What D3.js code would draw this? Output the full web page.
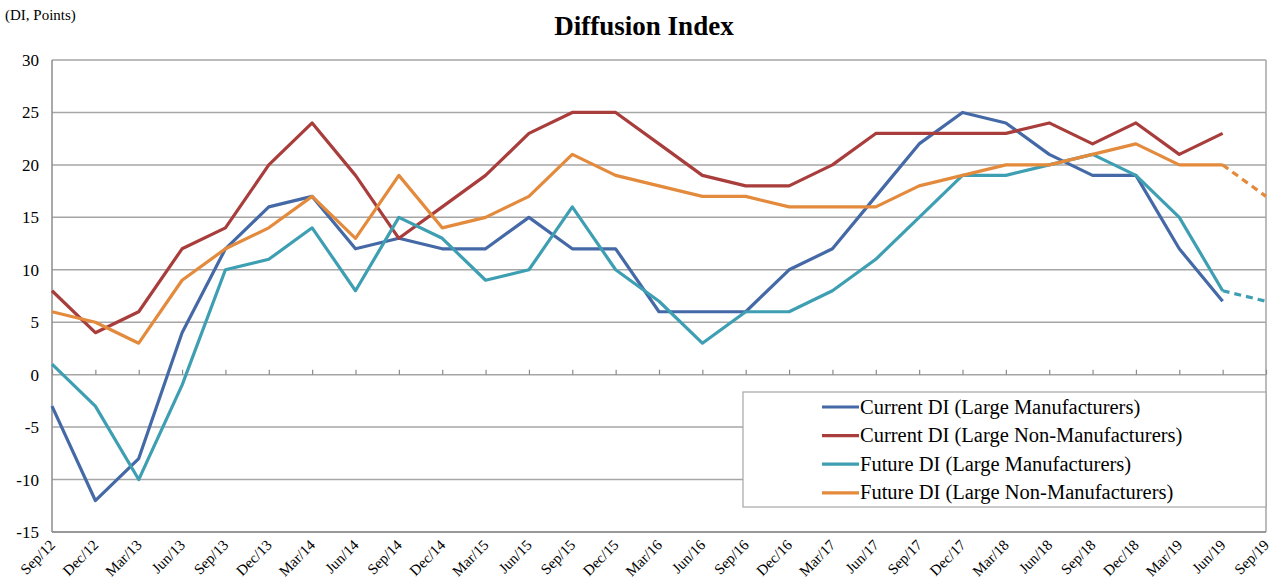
<!DOCTYPE html>
<html>
<head>
<meta charset="utf-8">
<script src="https://cdn.jsdelivr.net/npm/d3@7"></script>
<style>
  html, body { margin: 0; padding: 0; background: #fff; }
  svg { display: block; }
  text { font-family: "Liberation Serif", "Times New Roman", serif; fill: #000; }
</style>
</head>
<body>
<svg id="chart" width="1282" height="588"></svg>
<script>
// Quarterly survey dates
const quarters = ["Sep/12","Dec/12","Mar/13","Jun/13","Sep/13","Dec/13","Mar/14","Jun/14","Sep/14","Dec/14",
  "Mar/15","Jun/15","Sep/15","Dec/15","Mar/16","Jun/16","Sep/16","Dec/16","Mar/17","Jun/17",
  "Sep/17","Dec/17","Mar/18","Jun/18","Sep/18","Dec/18","Mar/19","Jun/19","Sep/19"];

// Diffusion index values (points); null = not yet surveyed
const currentMfr = [-3,-12,-8,4,12,16,17,12,13,12,12,15,12,12,6,6,6,10,12,17,22,25,24,21,19,19,12,7,null];
const currentNonMfr = [8,4,6,12,14,20,24,19,13,16,19,23,25,25,22,19,18,18,20,23,23,23,23,24,22,24,21,23,null];
const futureMfr = [1,-3,-10,-1,10,11,14,8,15,13,9,10,16,10,7,3,6,6,8,11,15,19,19,20,21,19,15,8,7];
const futureNonMfr = [6,5,3,9,12,14,17,13,19,14,15,17,21,19,18,17,17,16,16,16,18,19,20,20,21,22,20,20,17];

const yTicks = [30,25,20,15,10,5,0,-5,-10,-15];

const seriesNames = ["Current DI (Large Manufacturers)","Current DI (Large Non-Manufacturers)",
  "Future DI (Large Manufacturers)","Future DI (Large Non-Manufacturers)"];
const seriesValues = [currentMfr, currentNonMfr, futureMfr, futureNonMfr];
const seriesColors = ["#4469a6","#a83d3b","#3e9fb3","#e38a3c"];
// the last point of the forecast series is a projection, drawn dashed
const projectedFrom = [null, null, 27, 27];

const svg = d3.select("#chart");
const plotLeft = 52, plotRight = 1266, plotTop = 60, plotBottom = 532;

const x = d3.scalePoint().domain(quarters).range([plotLeft, plotRight]);
const y = d3.scaleLinear().domain([-15, 30]).range([plotBottom, plotTop]);

// horizontal gridlines
svg.append("g").selectAll("line").data(yTicks).join("line")
  .attr("x1", plotLeft).attr("x2", plotRight)
  .attr("y1", d => y(d)).attr("y2", d => y(d))
  .attr("stroke", "#a6a6a6").attr("stroke-width", 1.5);

// plot frame: left axis, right edge, bottom edge
svg.append("line").attr("x1", plotLeft).attr("x2", plotLeft).attr("y1", plotTop).attr("y2", plotBottom)
  .attr("stroke", "#8c8c8c").attr("stroke-width", 1.5);
svg.append("line").attr("x1", plotRight).attr("x2", plotRight).attr("y1", plotTop).attr("y2", plotBottom)
  .attr("stroke", "#a6a6a6").attr("stroke-width", 1.5);
svg.append("line").attr("x1", plotLeft).attr("x2", plotRight).attr("y1", plotBottom).attr("y2", plotBottom)
  .attr("stroke", "#8c8c8c").attr("stroke-width", 1.5);

// y axis labels (plain hyphen for negatives)
const yAxis = d3.axisLeft(y).tickValues(yTicks).tickSize(0).tickPadding(13).tickFormat(d => String(d));
const gy = svg.append("g").attr("transform", `translate(${plotLeft},0)`).call(yAxis);
gy.select(".domain").remove();
gy.selectAll("text").attr("font-size", 17).style("font-family", "'Liberation Serif', serif");

// category ticks on the zero line
const xAxis = d3.axisTop(x).tickSize(5).tickFormat("");
const gx = svg.append("g").attr("transform", `translate(0,${y(0)})`).call(xAxis);
gx.select(".domain").remove();
gx.selectAll(".tick line").attr("stroke", "#8c8c8c").attr("stroke-width", 1.2);

// rotated category labels along the bottom
svg.append("g").selectAll("text").data(quarters).join("text")
  .attr("transform", d => `translate(${x(d) + 4},${plotBottom + 14}) rotate(-45)`)
  .attr("text-anchor", "end")
  .attr("font-size", 15)
  .text(d => d);

// series lines
const line = d3.line()
  .defined(d => d.v !== null)
  .x(d => x(d.q)).y(d => y(d.v));

seriesValues.forEach((vals, i) => {
  const pts = vals.map((v, j) => ({ q: quarters[j], v, j }));
  const cut = projectedFrom[i];
  const solid = cut === null ? pts : pts.filter(p => p.j <= cut);
  svg.append("path").datum(solid)
    .attr("d", line).attr("fill", "none")
    .attr("stroke", seriesColors[i]).attr("stroke-width", 3.2)
    .attr("stroke-linejoin", "round");
  if (cut !== null) {
    const dashed = pts.filter(p => p.j >= cut);
    svg.append("path").datum(dashed)
      .attr("d", line).attr("fill", "none")
      .attr("stroke", seriesColors[i]).attr("stroke-width", 3.2)
      .attr("stroke-dasharray", "7,5");
  }
});

// legend
const lg = svg.append("g");
lg.append("rect").attr("x", 743).attr("y", 392).attr("width", plotRight - 743).attr("height", 115)
  .attr("fill", "#fff").attr("stroke", "#a6a6a6").attr("stroke-width", 1.2);
seriesNames.forEach((name, i) => {
  const cy = 407 + i * 28.6;
  lg.append("line").attr("x1", 822).attr("x2", 859).attr("y1", cy).attr("y2", cy)
    .attr("stroke", seriesColors[i]).attr("stroke-width", 3.2);
  lg.append("text").attr("x", 860).attr("y", cy + 6.5).attr("font-size", 20.5).text(name);
});

// titles
svg.append("text").attr("x", 644).attr("y", 35).attr("text-anchor", "middle")
  .attr("font-size", 27).attr("font-weight", "bold").text("Diffusion Index");
svg.append("text").attr("x", 5).attr("y", 20).attr("font-size", 15).text("(DI, Points)");
</script>
</body>
</html>
